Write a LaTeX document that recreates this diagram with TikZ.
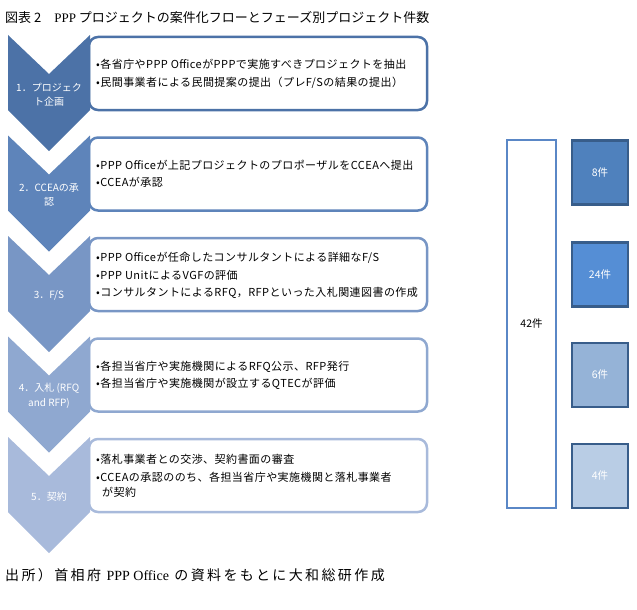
\documentclass[tikz,border=0pt]{standalone}
\usepackage{fontspec}
\setmainfont{Noto Sans CJK JP}
\newfontfamily\latinserif{Liberation Serif}
\newfontfamily\spacedjp[LetterSpace=4]{Noto Sans CJK JP}
\newfontfamily\widejp[LetterSpace=17]{Noto Sans CJK JP}
\usepackage{tikz}
\usetikzlibrary{positioning}

\definecolor{phaseA}{HTML}{4C72A7}
\definecolor{phaseB}{HTML}{5E84BA}
\definecolor{phaseC}{HTML}{7896C5}
\definecolor{phaseD}{HTML}{8FA8D0}
\definecolor{phaseE}{HTML}{A8BADB}
\definecolor{countA}{HTML}{4F81BD}
\definecolor{countB}{HTML}{558ED5}
\definecolor{countC}{HTML}{95B3D7}
\definecolor{countD}{HTML}{B9CDE5}
\definecolor{countline}{HTML}{385D8A}
\definecolor{totalline}{HTML}{5A87C6}

\begin{document}
\begin{tikzpicture}[x=1pt, y=-1pt, every node/.style={inner sep=0pt},
  taskbox/.style={rounded corners=9pt, line width=2.5pt, fill=white},
  tasktext/.style={anchor=west, align=left, font=\spacedjp\fontsize{11}{17.5}\selectfont},
  phaselabel/.style={white, align=center, font=\fontsize{10}{14.5}\selectfont},
  countbox/.style={draw=countline, line width=2.5pt, minimum width=56pt, minimum height=64pt, text=white, font=\fontsize{10.5}{12}\selectfont}]

\useasboundingbox (0,0) rectangle (637,610);

% Title
\node[anchor=west, font=\fontsize{13}{15}\selectfont] (title) at (5,18) {図表 2\quad{\latinserif PPP} プロジェクトの案件化フローとフェーズ別プロジェクト件数};

% Phase boxes and chevrons
\foreach \i/\col in {0/phaseA,1/phaseB,2/phaseC,3/phaseD,4/phaseE}{%
  \pgfmathsetmacro{\t}{35+100.5*\i}
  \draw[taskbox, draw=\col] (89,\t+2) rectangle (427,\t+75);
  \fill[\col] (8,\t) -- (49,\t+39) -- (90,\t) -- (90,\t+75) -- (49,\t+116) -- (8,\t+75) -- cycle;
}

\node[phaselabel] (phase1) at (49,94.5) {1．プロジェク\\ト企画};
\node[phaselabel] (phase2) at (49,195) {2．CCEAの承\\認};
\node[phaselabel] (phase3) at (49,295.5) {3．F/S};
\node[phaselabel] (phase4) at (49,396) {4．入札 (RFQ\\and RFP)};
\node[phaselabel] (phase5) at (49,496.5) {5．契約};

% Tasks of each phase
\node[tasktext] (task1) at (96,74) {•各省庁やPPP OfficeがPPPで実施すべきプロジェクトを抽出\\•民間事業者による民間提案の提出（プレF/Sの結果の提出）};
\node[tasktext] (task2) at (96,174) {•PPP Officeが上記プロジェクトのプロポーザルをCCEAへ提出\\•CCEAが承認};
\node[tasktext] (task3) at (96,275.5) {•PPP Officeが任命したコンサルタントによる詳細なF/S\\•PPP UnitによるVGFの評価\\•コンサルタントによるRFQ，RFPといった入札関連図書の作成};
\node[tasktext] (task4) at (96,375.5) {•各担当省庁や実施機関によるRFQ公示、RFP発行\\•各担当省庁や実施機関が設立するQTECが評価};
\node[tasktext] (task5) at (96,476) {•落札事業者との交渉、契約書面の審査\\•CCEAの承認ののち、各担当省庁や実施機関と落札事業者\\[-2.5pt]\hspace*{6pt}が契約};

% Project counts
\node[draw=totalline, line width=2.5pt, fill=white, minimum width=49pt, minimum height=368pt, font=\fontsize{10.5}{12}\selectfont] (total) at (531.5,324) {42件};
\node[countbox, fill=countA] (count1) at (600,172.5) {8件};
\node[countbox, fill=countB] (count2) at (600,274.5) {24件};
\node[countbox, fill=countC] (count3) at (600,375) {6件};
\node[countbox, fill=countD] (count4) at (600,476) {4件};

% Source
\node[anchor=west, font=\widejp\fontsize{14}{16}\selectfont] (source) at (5,575) {出所）首相府 {\latinserif PPP Office} の資料をもとに大和総研作成};

\end{tikzpicture}
\end{document}
